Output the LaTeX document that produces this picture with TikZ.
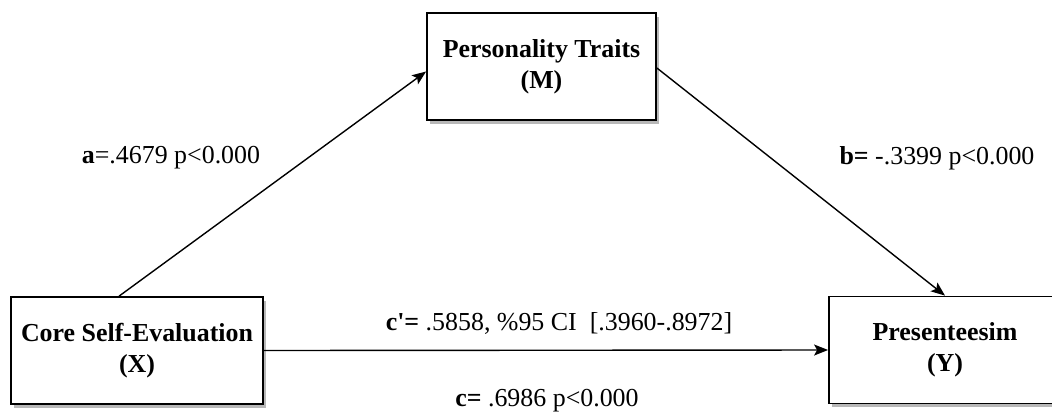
\documentclass[tikz,border=0pt]{standalone}
\usepackage{fontspec}
\setmainfont{Liberation Serif}
\usetikzlibrary{arrows.meta,shadows,calc}

\tikzset{
  varbox/.style={draw=black, line width=1.8bp, fill=white, align=center,
    inner sep=0pt, minimum height=107bp,
    font=\fontsize{26}{31}\selectfont\bfseries,
    drop shadow={shadow xshift=3bp, shadow yshift=-3.5bp, fill=black!35, opacity=0.8}},
  path/.style={line width=1.4bp, draw=black,
    -{Stealth[length=14bp, width=11bp, inset=3bp]}},
  coef/.style={inner sep=0pt, font=\fontsize{26}{31}\selectfont}
}

\begin{document}
\begin{tikzpicture}[x=1bp, y=-1bp]
  \useasboundingbox (0,0) rectangle (1052,416);

  % variables
  \node[varbox, minimum width=252bp] (X) at (137,350.5) {Core Self-Evaluation\\(X)};
  \node[varbox, minimum width=229bp] (M) at (541.5,66.5) {Personality Traits\\(M)};
  \node[varbox, minimum width=240bp] (Y) at (949,350) {Presenteesim\hspace*{8bp}\\(Y)\hspace*{8bp}};

  % paths
  \draw[path] ($(X.north west)+(109,0)$) -- ($(M.west)+(0,5)$);
  \draw[path] ($(M.east)+(0,1.5)$) -- ($(Y.north)+(-4,0)$);
  \draw[path] (X.east) -- (Y.west);

  % coefficients
  \node[coef] (la) at (171,158) {\textbf{a}=.4679 p<0.000};
  \node[coef] (lb) at (937,158) {\textbf{b=} -.3399 p<0.000};
  \node[coef] (lcp) at (559,323) {\textbf{c\textquotesingle=} .5858, \%95 CI\ \ [.3960-.8972]};
  \node[coef] (lc) at (547,401) {\textbf{c=} .6986 p<0.000};
\end{tikzpicture}
\end{document}
